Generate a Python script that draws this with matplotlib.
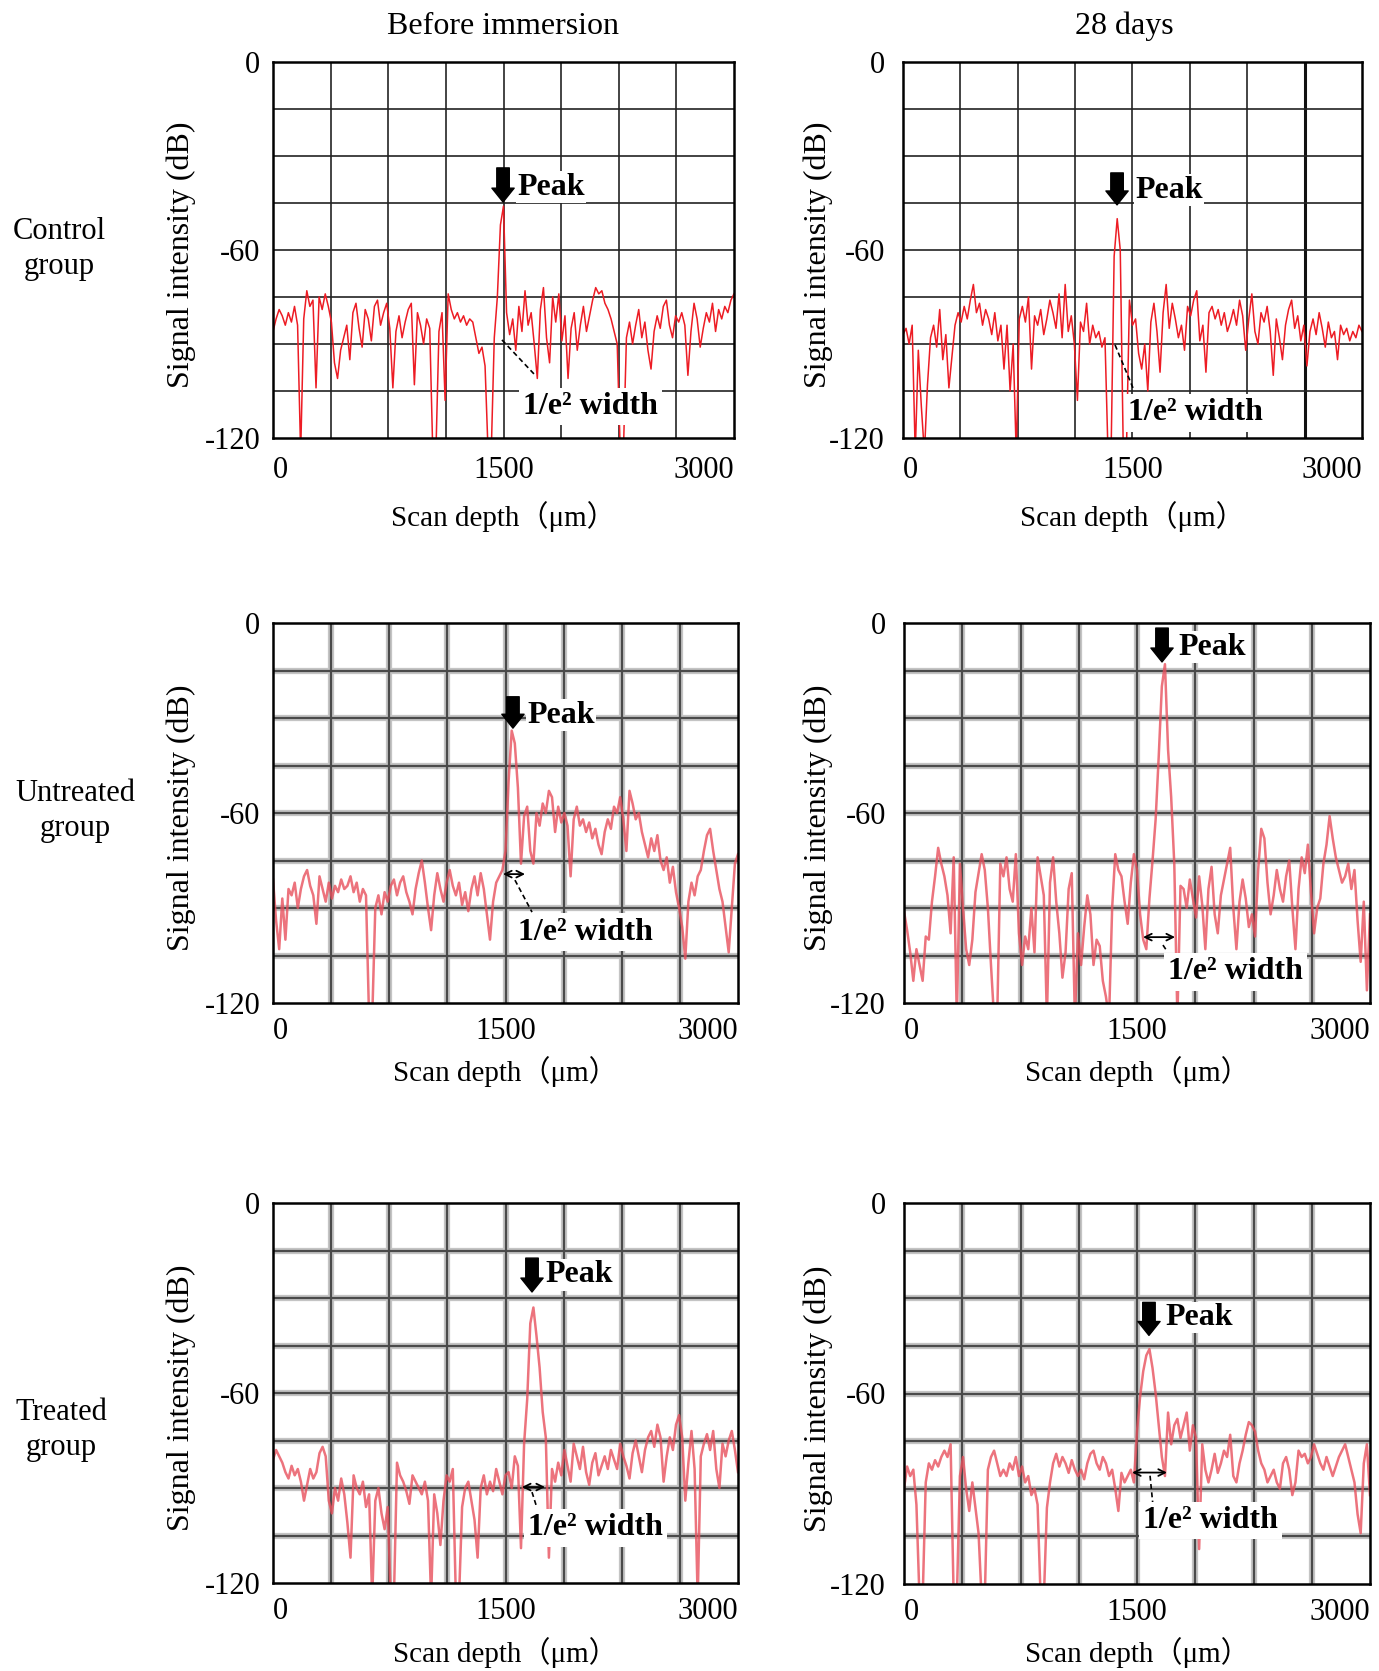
import numpy as np
import matplotlib.pyplot as plt

plt.rcParams['font.family'] = ['Liberation Serif', 'Noto Sans CJK JP', 'DejaVu Sans']

W, H = 1379, 1671

# scan depth samples (um)
depth = np.linspace(0, 3000, 151)

# signal intensity (dB)
ctrl_before = [
    -86, -82, -79, -81, -84, -80, -83, -78, -84, -125,
    -82, -73, -78, -76, -104, -75, -79, -74, -78, -83,
    -96, -101, -92, -88, -84, -95, -80, -77, -85, -91,
    -79, -82, -89, -78, -76, -84, -80, -77, -85, -104,
    -86, -81, -88, -83, -79, -77, -103, -80, -84, -90,
    -82, -85, -125, -125, -86, -80, -108, -74, -79, -82,
    -80, -83, -81, -84, -82, -83, -88, -93, -91, -97,
    -125, -125, -88, -75, -52, -46, -80, -87, -82, -92,
    -78, -86, -73, -84, -80, -90, -101, -79, -72, -88,
    -96, -75, -83, -74, -89, -81, -101, -85, -80, -92,
    -84, -78, -86, -81, -76, -72, -74, -73, -77, -79,
    -82, -86, -90, -125, -125, -88, -83, -90, -84, -79,
    -88, -83, -92, -98, -86, -81, -85, -78, -76, -84,
    -88, -81, -83, -80, -84, -100, -86, -77, -82, -91,
    -85, -80, -83, -77, -86, -79, -82, -78, -80, -76,
    -74]

ctrl_28d = [
    -87, -85, -90, -84, -125, -92, -110, -125, -103, -88,
    -84, -91, -79, -95, -87, -104, -94, -84, -80, -83,
    -78, -82, -76, -71, -80, -77, -84, -79, -82, -87,
    -80, -89, -84, -98, -84, -105, -90, -125, -82, -78,
    -83, -75, -98, -81, -84, -79, -87, -82, -76, -80,
    -85, -74, -88, -71, -86, -81, -90, -108, -83, -86,
    -77, -90, -84, -88, -86, -91, -88, -125, -125, -62,
    -50, -60, -125, -125, -76, -84, -82, -93, -98, -90,
    -105, -83, -77, -86, -99, -80, -71, -85, -77, -82,
    -88, -84, -92, -78, -81, -76, -73, -89, -84, -99,
    -80, -78, -82, -79, -84, -80, -86, -83, -79, -84,
    -76, -81, -92, -82, -74, -86, -90, -80, -83, -78,
    -86, -100, -82, -88, -95, -84, -79, -76, -85, -81,
    -89, -84, -97, -86, -82, -87, -80, -85, -91, -83,
    -88, -86, -95, -84, -87, -85, -89, -86, -88, -84,
    -86]

untr_before = [
    -81, -94, -103, -87, -100, -84, -86, -82, -90, -84,
    -80, -78, -83, -86, -95, -80, -84, -88, -82, -87,
    -83, -85, -81, -84, -83, -80, -85, -82, -88, -84,
    -86, -125, -125, -90, -86, -92, -85, -88, -83, -81,
    -86, -82, -80, -85, -88, -92, -84, -79, -75, -82,
    -90, -97, -86, -79, -84, -88, -82, -78, -83, -86,
    -82, -89, -85, -91, -84, -80, -86, -79, -84, -92,
    -100, -88, -82, -80, -78, -72, -50, -34, -38, -52,
    -76, -61, -58, -72, -76, -60, -64, -57, -60, -53,
    -55, -66, -58, -63, -60, -64, -80, -62, -58, -64,
    -62, -66, -63, -68, -65, -70, -73, -66, -62, -65,
    -58, -60, -55, -62, -72, -53, -57, -62, -60, -66,
    -70, -74, -68, -72, -67, -75, -78, -74, -82, -77,
    -85, -90, -96, -106, -88, -82, -86, -80, -78, -72,
    -67, -65, -72, -78, -84, -88, -96, -104, -90, -76,
    -73]

untr_28d = [
    -91, -97, -104, -113, -103, -108, -113, -99, -100, -88,
    -80, -71, -76, -80, -86, -98, -74, -125, -76, -90,
    -103, -108, -100, -85, -79, -73, -78, -90, -108, -125,
    -125, -76, -80, -74, -84, -88, -73, -98, -108, -99,
    -103, -90, -104, -74, -80, -86, -125, -82, -74, -88,
    -98, -112, -104, -84, -79, -125, -98, -108, -96, -86,
    -92, -108, -100, -102, -113, -118, -125, -90, -73, -78,
    -80, -88, -95, -82, -73, -78, -92, -100, -103, -87,
    -75, -62, -42, -20, -13, -40, -55, -76, -125, -83,
    -84, -90, -81, -87, -93, -80, -89, -103, -84, -77,
    -92, -98, -86, -81, -76, -71, -90, -103, -88, -81,
    -87, -96, -92, -99, -78, -65, -68, -82, -92, -86,
    -78, -84, -88, -80, -75, -90, -103, -84, -74, -79,
    -70, -85, -98, -90, -87, -76, -70, -61, -68, -74,
    -78, -82, -80, -76, -84, -78, -94, -107, -88, -116,
    -92]

trt_before = [
    -81, -78, -80, -82, -85, -87, -83, -86, -84, -88,
    -94, -89, -84, -87, -85, -79, -77, -80, -94, -98,
    -90, -94, -87, -92, -101, -112, -86, -90, -92, -88,
    -96, -92, -125, -94, -90, -98, -103, -96, -125, -125,
    -82, -86, -88, -91, -95, -86, -88, -90, -92, -88,
    -94, -125, -92, -98, -108, -94, -86, -88, -84, -125,
    -125, -96, -90, -88, -94, -100, -112, -90, -86, -92,
    -88, -91, -84, -88, -92, -86, -85, -90, -80, -83,
    -109, -76, -62, -38, -33, -42, -52, -66, -74, -112,
    -84, -88, -82, -86, -78, -83, -88, -76, -80, -84,
    -77, -85, -89, -82, -79, -86, -83, -80, -84, -78,
    -81, -84, -76, -80, -83, -87, -79, -75, -80, -85,
    -78, -74, -72, -77, -70, -74, -88, -80, -74, -78,
    -70, -67, -74, -94, -82, -72, -84, -125, -80, -76,
    -73, -78, -72, -84, -90, -76, -80, -75, -72, -78,
    -85]

trt_28d = [
    -90, -83, -86, -84, -95, -125, -125, -88, -82, -84,
    -81, -83, -80, -78, -80, -76, -125, -125, -86, -80,
    -90, -97, -88, -96, -104, -125, -125, -84, -80, -78,
    -82, -86, -84, -86, -82, -84, -80, -86, -83, -88,
    -86, -92, -90, -95, -125, -125, -96, -88, -82, -79,
    -83, -80, -82, -85, -81, -84, -86, -84, -87, -82,
    -79, -78, -82, -84, -80, -82, -86, -84, -90, -97,
    -85, -88, -86, -84, -88, -72, -61, -53, -48, -46,
    -52, -60, -70, -80, -86, -66, -76, -70, -68, -74,
    -70, -66, -78, -70, -74, -109, -76, -84, -88, -84,
    -79, -85, -82, -78, -80, -73, -86, -88, -82, -78,
    -73, -69, -70, -72, -78, -82, -84, -88, -86, -84,
    -88, -90, -82, -80, -84, -92, -88, -78, -80, -79,
    -82, -80, -76, -79, -82, -84, -80, -83, -86, -83,
    -80, -78, -76, -80, -84, -88, -98, -104, -82, -76,
    -92]

col_titles = ['Before immersion', '28 days']
row_labels = ['Control\ngroup', 'Untreated\ngroup', 'Treated\ngroup']
x_ticks = [0, 1500, 3000]
x_ticklabels = ['0', '1500', '3000']
y_ticks = [0, -60, -120]
y_ticklabels = ['0', '-60', '-120']

series = [ctrl_before, ctrl_28d, untr_before, untr_28d, trt_before, trt_28d]

# panel boxes in pixels: left, top, right, bottom
boxes = [(273, 62, 734, 438), (903, 62, 1362, 438),
         (273, 623, 738, 1003), (904, 623, 1370, 1003),
         (273, 1203, 738, 1583), (904, 1203, 1370, 1584)]

# annotation placement per panel (data coords)
notes = [
    dict(arrow=(1497, -33.8, -44.7), peak=(1588, -39.9), width=(1627, -110),
         span=None, dash=((1490, -88.7), (1705, -99.9))),
    dict(arrow=(1399, -35.4, -45.6), peak=(1516, -40.9), width=(1471, -112),
         span=None, dash=((1386, -90.3), (1503, -104))),
    dict(arrow=(1548, -23.3, -33.2), peak=(1639, -29.1), width=(1581, -97.6),
         span=(1484, 1626, -79.3), dash=((1561, -81.2), (1671, -91.3))),
    dict(arrow=(1661, -1.6, -12.3), peak=(1764, -7.6), width=(1700, -110.2),
         span=(1539, 1745, -99.2), dash=((1667, -101.7), (1693, -103.6))),
    dict(arrow=(1671, -17.4, -28.1), peak=(1755, -22.7), width=(1645, -102.6),
         span=(1606, 1755, -89.7), dash=((1671, -91.3), (1703, -96.3))),
    dict(arrow=(1577, -31.3, -41.7), peak=(1680, -36.0), width=(1539, -100.1),
         span=(1468, 1693, -84.9), dash=((1584, -85.9), (1603, -95.4))),
]

fig = plt.figure(figsize=(W / 100, H / 100), dpi=100)


def fx(px):
    return px / W


def fy(py):
    return 1 - py / H


for k, (box, ys, nt) in enumerate(zip(boxes, series, notes)):
    row, col = divmod(k, 2)
    l, t, r, b = box
    ax = fig.add_axes([fx(l), fy(b), (r - l) / W, (b - t) / H])
    ax.set_xlim(0, 3000)
    ax.set_ylim(-120, 0)

    # oscilloscope-like grid
    gxs = np.arange(375, 3000, 375)
    gys = np.arange(-105, 0, 15)
    if row == 0:
        for gx in gxs:
            lw = 2.2 if (col == 1 and gx == 2625) else 1.1
            ax.axvline(gx, color='#111111', lw=lw, zorder=1)
        for gy in gys:
            ax.axhline(gy, color='#222222', lw=1.2, zorder=1)
        ax.plot(depth, ys, color='#ed1c24', lw=1.1, zorder=2.2)
    else:
        for gx in gxs:
            ax.axvline(gx, color='#c4c4c4', lw=4.5, zorder=1)
            ax.axvline(gx, color='#4a4a4a', lw=1.6, zorder=1.1)
        for gy in gys:
            ax.axhline(gy, color='#c4c4c4', lw=4.5, zorder=1)
            ax.axhline(gy, color='#4a4a4a', lw=1.6, zorder=1.1)
        ax.plot(depth, ys, color='#e8505c', lw=1.8, alpha=0.8, zorder=2.2)

    for s in ax.spines.values():
        s.set_linewidth(1.8)
        s.set_color('black')

    ax.set_xticks(x_ticks, x_ticklabels)
    ax.set_yticks(y_ticks, y_ticklabels)
    xl = ax.get_xticklabels()
    xl[0].set_ha('left')
    xl[-1].set_ha('right')
    ax.tick_params(axis='x', length=0, labelsize=22, pad=13 if row == 0 else 10)
    ax.tick_params(axis='y', length=0, labelsize=22, pad=9 if col == 0 else 13)

    # annotations
    ax_x, a_top, a_tip = nt['arrow']
    ax.annotate('', xy=(ax_x, a_tip), xytext=(ax_x, a_top),
                arrowprops=dict(arrowstyle='simple,head_width=0.8,head_length=0.5,tail_width=0.45',
                                color='black', mutation_scale=20, shrinkA=0, shrinkB=0),
                zorder=5)
    ax.text(nt['peak'][0], nt['peak'][1], 'Peak', fontsize=23, fontweight='bold',
            ha='left', va='center', zorder=5,
            bbox=dict(facecolor='white', edgecolor='none', pad=1))
    ax.text(nt['width'][0], nt['width'][1], '1/e² width', fontsize=23, fontweight='bold',
            ha='left', va='center', zorder=5,
            bbox=dict(facecolor='white', edgecolor='none', pad=3))
    (dx1, dy1), (dx2, dy2) = nt['dash']
    ax.plot([dx1, dx2], [dy1, dy2], color='black', lw=1.2, ls=(0, (3, 2)), zorder=4)
    if nt['span'] is not None:
        sx1, sx2, sy = nt['span']
        ax.annotate('', xy=(sx1, sy), xytext=(sx2, sy),
                    arrowprops=dict(arrowstyle='<->', lw=1.3, color='black',
                                    mutation_scale=12, shrinkA=0, shrinkB=0),
                    zorder=5)

    # axis titles
    ylab_x = 181 if col == 0 else 818
    fig.text(fx(ylab_x), fy((t + b) / 2 + 5), 'Signal intensity (dB)', rotation=90,
             ha='center', va='center', fontsize=23)
    xlab_y = [517, 1072, 1653][row]
    fig.text(fx((l + r) / 2), fy(xlab_y), 'Scan depth（μm）', ha='center', va='center',
             fontsize=21)

# column titles
fig.text(fx(503), fy(26), col_titles[0], ha='center', va='center', fontsize=23)
fig.text(fx(1124), fy(26), col_titles[1], ha='center', va='center', fontsize=23)

# row labels
for (cx, cy), lab in zip([(59, 249), (75, 811), (61, 1430)], row_labels):
    fig.text(fx(cx), fy(cy), lab, ha='center', va='center', fontsize=22,
             multialignment='center', linespacing=1.3)

fig.savefig('out.png', dpi=100)
